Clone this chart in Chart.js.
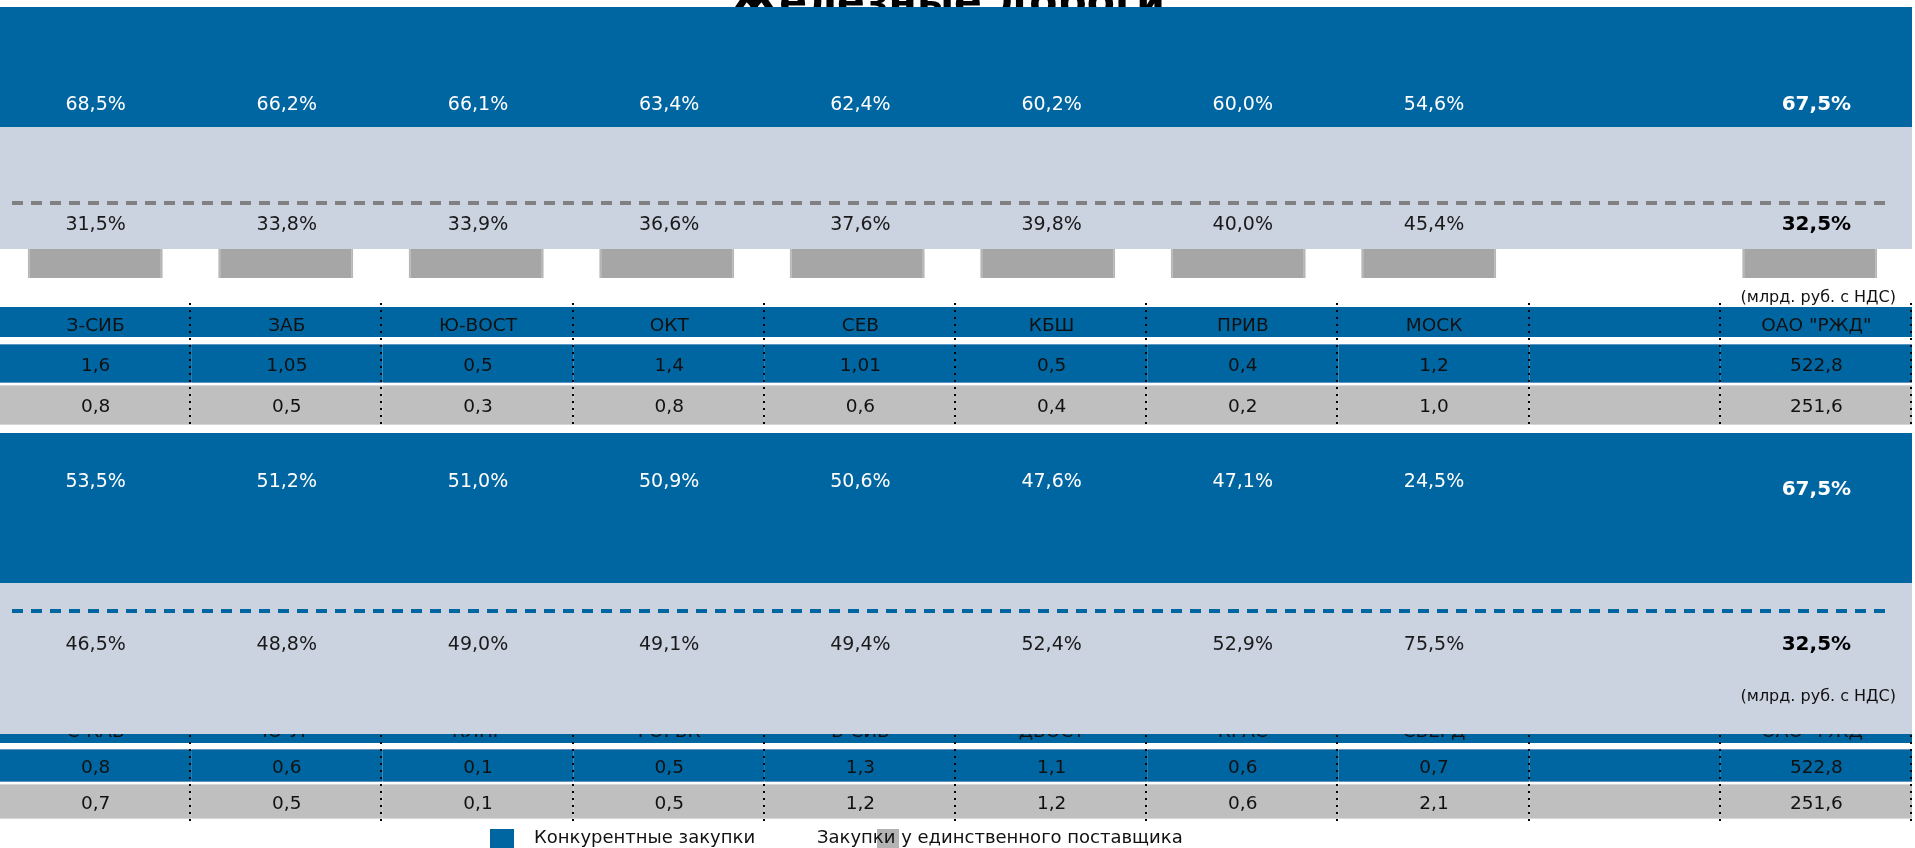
<!DOCTYPE html>
<html lang="ru">
<head>
<meta charset="UTF-8">
<title>Железные дороги</title>
<script src="https://cdn.jsdelivr.net/npm/chart.js"></script>
<style>
    html, body { margin: 0; padding: 0; background: #fff; overflow: hidden; }
    #chart-container { width: 1915px; height: 848px; }
</style>
</head>
<body>

<div id="chart-container">
    <canvas id="roadsChart" width="1915" height="848"></canvas>
</div>

<script>
    // дороги (9-я колонка пустая)
    const roadsTop = ['З-СИБ', 'ЗАБ', 'Ю-ВОСТ', 'ОКТ', 'СЕВ', 'КБШ', 'ПРИВ', 'МОСК', '', 'ОАО "РЖД"'];
    const roadsBottom = ['С-КАВ', 'Ю-УР', 'КЛНГ', 'ГОРЬК', 'В-СИБ', 'ДВОСТ', 'КРАС', 'СВЕРД', '', 'ОАО "РЖД"'];

    // доли, %
    const shareCompTop = [68.5, 66.2, 66.1, 63.4, 62.4, 60.2, 60.0, 54.6, null, 67.5];
    const shareSoleTop = [31.5, 33.8, 33.9, 36.6, 37.6, 39.8, 40.0, 45.4, null, 32.5];
    const shareCompBottom = [53.5, 51.2, 51.0, 50.9, 50.6, 47.6, 47.1, 24.5, null, 67.5];
    const shareSoleBottom = [46.5, 48.8, 49.0, 49.1, 49.4, 52.4, 52.9, 75.5, null, 32.5];

    // суммы, млрд. руб. с НДС
    const sumCompTop = [1.6, 1.05, 0.5, 1.4, 1.01, 0.5, 0.4, 1.2, null, 522.8];
    const sumSoleTop = [0.8, 0.5, 0.3, 0.8, 0.6, 0.4, 0.2, 1.0, null, 251.6];
    const sumCompBottom = [0.8, 0.6, 0.1, 0.5, 1.3, 1.1, 0.6, 0.7, null, 522.8];
    const sumSoleBottom = [0.7, 0.5, 0.1, 0.5, 1.2, 1.2, 0.6, 2.1, null, 251.6];

    const legendLabels = ['Конкурентные закупки', 'Закупки у единственного поставщика'];
    const unitsLabel = '(млрд. руб. с НДС)';
    const titleText = 'Железные дороги';

    // разметка по вертикали (ось y в пикселях макета; полосы раздуваются на 1px)
    const rows = {
        compTop: [8, 128], soleTop: [128, 248], stubs: [249, 278],
        head1: [308, 336], comp1: [345, 382], sole1: [386, 424],
        compBot: [434, 584], soleBot: [584, 733],
        head2: [715, 742], comp2: [750, 781], sole2: [785, 818],
        sep1: [303, 427], sep2: [714, 821]
    };
    const textY = {
        title: 15, compTop: 103, soleTop: 223, dashTop: 203, unitsTop: 296,
        compBot: 480, compBotTotal: 488, soleBot: 643, dashBot: 611, unitsBot: 695,
        head1: 324, comp1: 364, sole1: 405, head2: 730, comp2: 766, sole2: 802, legend: 836
    };

    const BLUE = '#0066A2';
    const LIGHT = '#CBD2E0';
    const STUB = '#A6A6A6';
    const GREY_ROW = '#BFBFBF';
    const FONT = '"DejaVu Sans", Verdana, sans-serif';

    const fmtNum = v => {
        const d = (String(v).split('.')[1] || '').length;
        return v.toFixed(Math.max(1, d)).replace('.', ',');
    };
    const fmtPct = v => v.toFixed(1).replace('.', ',') + '%';

    const band = r => roadsTop.map(() => r);

    function barSet(name, data, color, extra) {
        return Object.assign({
            label: name, data: data, backgroundColor: color,
            barPercentage: 1, categoryPercentage: 1, grouped: false,
            borderWidth: 0, inflateAmount: 1, xAxisID: 'x', yAxisID: 'y'
        }, extra || {});
    }

    // в порядке отрисовки
    const sets = [
        barSet('compTop', band(rows.compTop), BLUE),
        barSet('soleTop', band(rows.soleTop), LIGHT),
        barSet('stubs', roadsTop.map((r, i) => r ? { x: i, y: rows.stubs } : null).filter(Boolean), STUB,
            { xAxisID: 'xb', barThickness: 135, inflateAmount: 0, borderColor: '#B6B6B6', borderSkipped: false,
              borderWidth: { left: 2, right: 2, top: 0, bottom: 0 } }),
        barSet('head1', band(rows.head1), BLUE),
        barSet('comp1', band(rows.comp1), BLUE,
            { borderColor: '#5E95C3', borderSkipped: false, borderWidth: { top: 1, bottom: 1, left: 0, right: 0 } }),
        barSet('sole1', band(rows.sole1), GREY_ROW,
            { borderColor: '#D6D6D6', borderSkipped: false, borderWidth: { top: 1, bottom: 1, left: 0, right: 0 } }),
        barSet('compBot', band(rows.compBot), BLUE),
        barSet('comp2', band(rows.comp2), BLUE,
            { borderColor: '#5E95C3', borderSkipped: false, borderWidth: { top: 1, bottom: 1, left: 0, right: 0 } }),
        barSet('sole2', band(rows.sole2), GREY_ROW,
            { borderColor: '#D6D6D6', borderSkipped: false, borderWidth: { top: 1, bottom: 1, left: 0, right: 0 } }),
        barSet('head2', band(rows.head2), BLUE),
        barSet('soleBot', band(rows.soleBot), LIGHT)
    ];
    sets.forEach((s, i) => { s.order = sets.length - i; });
    const HEAD2 = sets.findIndex(s => s.label === 'head2');

    function put(ctx, s, x, yMid, size, color, weight, align) {
        ctx.save();
        ctx.font = (weight || 'normal') + ' ' + size + 'px ' + FONT;
        ctx.fillStyle = color;
        ctx.textAlign = align || 'center';
        ctx.textBaseline = 'alphabetic';
        ctx.fillText(s, x, yMid + size * 0.365);
        ctx.restore();
    }

    function separators(chart, span) {
        const ctx = chart.ctx, x = chart.scales.x, y = chart.scales.y;
        const step = (chart.chartArea.right - chart.chartArea.left) / roadsTop.length;
        ctx.save();
        ctx.strokeStyle = '#000';
        ctx.lineWidth = 2;
        ctx.setLineDash([2, 5]);
        for (let i = 0; i < roadsTop.length; i++) {
            const px = Math.round(x.getPixelForValue(i) + step / 2) - 1;
            ctx.beginPath();
            ctx.moveTo(px, y.getPixelForValue(span[0]));
            ctx.lineTo(px, y.getPixelForValue(span[1]));
            ctx.stroke();
        }
        ctx.restore();
    }

    function tableRow(chart, labels, yMid) {
        const x = chart.scales.x, y = chart.scales.y;
        labels.forEach((v, i) => {
            if (v === null || v === '') return;
            const s = typeof v === 'number' ? fmtNum(v) : v;
            put(chart.ctx, s, x.getPixelForValue(i), y.getPixelForValue(yMid), 18.5, '#111');
        });
    }

    function shareRow(chart, values, yMid, color, yTotal) {
        const x = chart.scales.x, y = chart.scales.y;
        const last = values.length - 1;
        values.forEach((v, i) => {
            if (v === null) return;
            const bold = i === last;
            const yy = bold && yTotal ? yTotal : yMid;
            put(chart.ctx, fmtPct(v), x.getPixelForValue(i), y.getPixelForValue(yy),
                bold ? 20 : 19, bold ? (color === '#fff' ? '#fff' : '#000') : color, bold ? 'bold' : 'normal');
        });
    }

    function dashed(chart, yVal, color) {
        const ctx = chart.ctx, a = chart.chartArea, y = chart.scales.y;
        ctx.save();
        ctx.strokeStyle = color;
        ctx.lineWidth = 4;
        ctx.setLineDash([11, 8]);
        ctx.beginPath();
        ctx.moveTo(a.left + 12, y.getPixelForValue(yVal));
        ctx.lineTo(a.right - 22, y.getPixelForValue(yVal));
        ctx.stroke();
        ctx.restore();
    }

    const overlay = {
        id: 'overlay',
        beforeDatasetsDraw(chart) {
            const ctx = chart.ctx;
            ctx.save();
            ctx.font = 'bold 41px ' + FONT;
            ctx.fillStyle = '#000';
            ctx.textAlign = 'center';
            ctx.fillText(titleText, 947, chart.scales.y.getPixelForValue(textY.title));
            ctx.restore();
        },
        afterDatasetDraw(chart, args) {
            if (args.index !== HEAD2) return;
            // заголовки второй таблицы частично закрыты светлой полосой
            tableRow(chart, roadsBottom, textY.head2);
            separators(chart, rows.sep2);
        },
        afterDatasetsDraw(chart) {
            const ctx = chart.ctx, y = chart.scales.y;

            dashed(chart, textY.dashTop, '#808080');
            dashed(chart, textY.dashBot, BLUE);

            shareRow(chart, shareCompTop, textY.compTop, '#fff');
            shareRow(chart, shareSoleTop, textY.soleTop, '#1A1A1A');
            shareRow(chart, shareCompBottom, textY.compBot, '#fff', textY.compBotTotal);
            shareRow(chart, shareSoleBottom, textY.soleBot, '#1A1A1A');

            put(ctx, unitsLabel, 1896, y.getPixelForValue(textY.unitsTop), 16, '#111', 'normal', 'right');
            put(ctx, unitsLabel, 1896, y.getPixelForValue(textY.unitsBot), 16, '#111', 'normal', 'right');

            separators(chart, rows.sep1);
            tableRow(chart, roadsTop, textY.head1);
            tableRow(chart, sumCompTop, textY.comp1);
            tableRow(chart, sumSoleTop, textY.sole1);
            tableRow(chart, sumCompBottom, textY.comp2);
            tableRow(chart, sumSoleBottom, textY.sole2);

            // легенда
            const ly = y.getPixelForValue(textY.legend);
            ctx.fillStyle = BLUE;
            ctx.fillRect(490, ly - 7, 24, 20);
            put(ctx, legendLabels[0], 534, ly, 18, '#111', 'normal', 'left');
            ctx.fillStyle = '#B3B3B3';
            ctx.fillRect(877, ly - 7, 22, 20);
            put(ctx, legendLabels[1], 817, ly, 18, '#111', 'normal', 'left');
        }
    };

    new Chart(document.getElementById('roadsChart'), {
        type: 'bar',
        data: { labels: roadsTop, datasets: sets },
        options: {
            responsive: false,
            animation: false,
            devicePixelRatio: 1,
            layout: { padding: { left: 0, right: 3, top: 0, bottom: 0 } },
            plugins: { legend: { display: false }, tooltip: { enabled: false } },
            scales: {
                x: { type: 'category', display: false, offset: true, grid: { display: false } },
                xb: { type: 'linear', display: false, offset: false, min: -0.5, max: 9.537, bounds: 'data' },
                y: { type: 'linear', display: false, min: 0, max: 848, reverse: true }
            }
        },
        plugins: [overlay]
    });
</script>

</body>
</html>
